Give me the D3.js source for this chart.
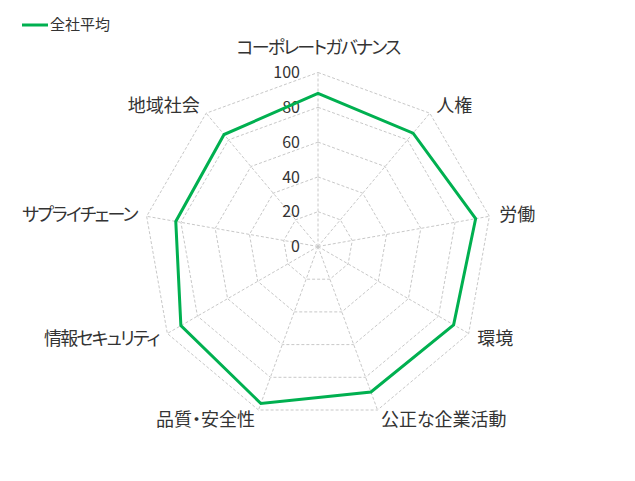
<!DOCTYPE html>
<html>
<head>
<meta charset="utf-8">
<script src="https://cdn.jsdelivr.net/npm/d3@7"></script>
<style>
  body { margin: 0; background: #fff; }
  text { font-family: "Noto Sans CJK JP", "Noto Sans", sans-serif; font-feature-settings: "palt"; fill: #333; }
</style>
</head>
<body>
<svg id="chart"></svg>
<script>
// Data
const categories = ["コーポレートガバナンス", "人権", "労働", "環境", "公正な企業活動",
  "品質・安全性", "情報セキュリティ", "サプライチェーン", "地域社会"];
const seriesName = "全社平均";
const values = [88, 85, 92, 90, 89, 96, 91, 83, 84];
const ticks = [0, 20, 40, 60, 80, 100];

const width = 635, height = 481;
const cx = 318, cy = 246.5, radius = 174;

const svg = d3.select("#chart")
    .attr("width", width)
    .attr("height", height);

const g = svg.append("g")
    .attr("transform", `translate(${cx},${cy})`);

const r = d3.scaleLinear().domain([0, 100]).range([0, radius]);
const angle = d3.scaleLinear().domain([0, categories.length]).range([0, 2 * Math.PI]);

const pt = (i, v) => [Math.sin(angle(i)) * r(v), -Math.cos(angle(i)) * r(v)];

// Grid rings
g.selectAll(".ring")
  .data(ticks.slice(1))
  .enter()
  .append("polygon")
    .attr("points", t => categories.map((c, i) => pt(i, t).join(",")).join(" "))
    .attr("fill", "none")
    .attr("stroke", "#c8c8c8")
    .attr("stroke-width", 1)
    .attr("stroke-dasharray", "3,2");

// Spokes
g.selectAll(".spoke")
  .data(categories)
  .enter()
  .append("line")
    .attr("x1", 0).attr("y1", 0)
    .attr("x2", (c, i) => pt(i, 100)[0])
    .attr("y2", (c, i) => pt(i, 100)[1])
    .attr("stroke", "#c8c8c8")
    .attr("stroke-width", 1)
    .attr("stroke-dasharray", "3,2");

// Tick labels
g.selectAll(".tick")
  .data(ticks)
  .enter()
  .append("text")
    .attr("x", -18)
    .attr("y", t => -r(t))
    .attr("dy", "0.35em")
    .attr("text-anchor", "end")
    .style("font-size", "16px")
    .text(t => t);

// Category labels (katakana set a bit tighter)
g.selectAll(".cat")
  .data(categories)
  .enter()
  .append("text")
    .attr("x", (c, i) => pt(i, 100)[0] + Math.sin(angle(i)) * 10)
    .attr("y", (c, i) => i === 0 ? -r(100) - 25 : pt(i, 100)[1] - Math.cos(angle(i)) * 10)
    .attr("dy", "0.35em")
    .attr("text-anchor", (c, i) => {
      const s = Math.sin(angle(i));
      return s > 0.1 ? "start" : s < -0.1 ? "end" : "middle";
    })
    .style("font-size", "18px")
    .style("letter-spacing", c => /[ァ-ヶー]/.test(c) ? "-1.8px" : null)
    .text(c => c);

// Series line
g.append("path")
  .datum(values)
  .attr("d", d3.line()
    .x((v, i) => pt(i, v)[0])
    .y((v, i) => pt(i, v)[1])
    .curve(d3.curveLinearClosed))
  .attr("fill", "none")
  .attr("stroke", "#00b050")
  .attr("stroke-width", 3)
  .attr("stroke-linejoin", "miter");

// Legend
const legend = svg.append("g").attr("transform", "translate(22,25)");
legend.append("line")
  .attr("x1", 0).attr("x2", 26)
  .attr("stroke", "#00b050")
  .attr("stroke-width", 3);
legend.append("text")
  .attr("x", 28)
  .attr("dy", "0.35em")
  .style("font-size", "15px")
  .text(seriesName);
</script>
</body>
</html>
